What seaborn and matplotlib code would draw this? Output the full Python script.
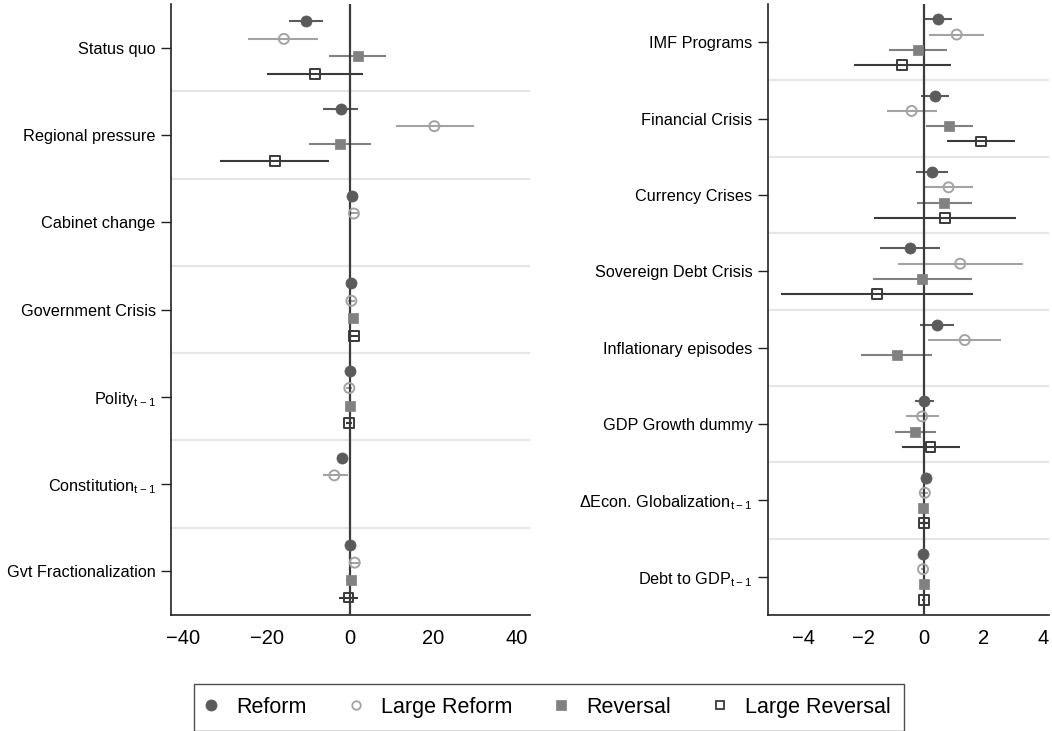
import numpy as np
import pandas as pd
import matplotlib
matplotlib.use("Agg")
import matplotlib.pyplot as plt
import seaborn as sns
from matplotlib.lines import Line2D

nan = np.nan

# ---------------- data ----------------
series = ["Reform", "Large Reform", "Reversal", "Large Reversal"]

left_vars = ["Status quo", "Regional pressure", "Cabinet change", "Government Crisis",
             r"Polity$_{\mathregular{t-1}}$", r"Constitution$_{\mathregular{t-1}}$",
             "Gvt Fractionalization"]

left_reform_est = [-10.6, -2.2, 0.4, 0.3, 0.0, -1.9, 0.0]
left_reform_lo = [-14.6, -6.4, -0.3, -0.3, -0.4, -2.5, -0.4]
left_reform_hi = [-6.4, 1.8, 1.1, 0.9, 0.4, -1.3, 0.4]

left_lref_est = [-15.9, 20.2, 0.9, 0.3, -0.2, -3.8, 1.1]
left_lref_lo = [-24.4, 10.9, 0.0, -0.6, -0.9, -6.6, 0.1]
left_lref_hi = [-7.6, 29.7, 1.8, 1.2, 0.5, -0.6, 2.1]

left_rev_est = [1.8, -2.4, nan, 0.6, 0.0, nan, 0.1]
left_rev_lo = [-5.1, -9.8, nan, 0.0, -0.5, nan, -1.1]
left_rev_hi = [8.7, 5.0, nan, 1.2, 0.5, nan, 1.3]

left_lrev_est = [-8.5, -18.1, nan, 1.0, -0.3, nan, -0.4]
left_lrev_lo = [-19.9, -31.3, nan, 0.0, -1.1, nan, -2.6]
left_lrev_hi = [3.0, -5.0, nan, 2.0, 0.5, nan, 1.8]

right_vars = ["IMF Programs", "Financial Crisis", "Currency Crises", "Sovereign Debt Crisis",
              "Inflationary episodes", "GDP Growth dummy",
              r"ΔEcon. Globalization$_{\mathregular{t-1}}$", r"Debt to GDP$_{\mathregular{t-1}}$"]

right_reform_est = [0.49, 0.38, 0.27, -0.46, 0.43, 0.01, 0.08, -0.02]
right_reform_lo = [0.01, -0.08, -0.27, -1.46, -0.13, -0.30, 0.02, -0.06]
right_reform_hi = [0.94, 0.83, 0.82, 0.54, 1.02, 0.34, 0.14, 0.02]

right_lref_est = [1.10, -0.40, 0.83, 1.22, 1.37, -0.05, 0.04, -0.02]
right_lref_lo = [0.19, -1.22, 0.01, -0.85, 0.14, -0.59, -0.08, -0.08]
right_lref_hi = [2.01, 0.43, 1.63, 3.30, 2.57, 0.52, 0.16, 0.04]

right_rev_est = [-0.18, 0.85, 0.69, -0.05, -0.90, -0.28, -0.02, 0.01]
right_rev_lo = [-1.15, 0.09, -0.23, -1.69, -2.08, -0.96, -0.08, -0.04]
right_rev_hi = [0.77, 1.63, 1.61, 1.62, 0.29, 0.40, 0.04, 0.06]

right_lrev_est = [-0.71, 1.91, 0.71, -1.56, nan, 0.23, 0.0, 0.01]
right_lrev_lo = [-2.32, 0.79, -1.66, -4.75, nan, -0.73, -0.17, -0.04]
right_lrev_hi = [0.90, 3.04, 3.07, 1.63, nan, 1.20, 0.17, 0.06]

# ---------------- style ----------------
sns.set_theme(style="white")
plt.rcParams["font.family"] = ["Liberation Sans", "DejaVu Sans"]
plt.rcParams["mathtext.default"] = "regular"
plt.rcParams["axes.unicode_minus"] = True
plt.rcParams["text.color"] = "black"
plt.rcParams["xtick.color"] = "black"
plt.rcParams["ytick.color"] = "black"
plt.rcParams["xtick.labelcolor"] = "black"
plt.rcParams["ytick.labelcolor"] = "black"

styles = {
    "Reform":         dict(marker="o", color="#5b5b5b", filled=True,  size=8.0),
    "Large Reform":   dict(marker="o", color="#a3a3a3", filled=False, size=7.2),
    "Reversal":       dict(marker="s", color="#818181", filled=True,  size=7.6),
    "Large Reversal": dict(marker="s", color="#3a3a3a", filled=False, size=7.0),
}


def make_df(vars_, est, lo, hi):
    rows = []
    for s_i, name in enumerate(series):
        for c_i, v in enumerate(vars_):
            rows.append(dict(var=v, cat=c_i, series=name, s=s_i,
                             est=est[s_i][c_i], lo=lo[s_i][c_i], hi=hi[s_i][c_i]))
    df = pd.DataFrame(rows)
    df["y"] = df["cat"] - 0.3 + 0.2 * df["s"]
    return df


left_df = make_df(left_vars,
                  [left_reform_est, left_lref_est, left_rev_est, left_lrev_est],
                  [left_reform_lo, left_lref_lo, left_rev_lo, left_lrev_lo],
                  [left_reform_hi, left_lref_hi, left_rev_hi, left_lrev_hi])
right_df = make_df(right_vars,
                   [right_reform_est, right_lref_est, right_rev_est, right_lrev_est],
                   [right_reform_lo, right_lref_lo, right_rev_lo, right_lrev_lo],
                   [right_reform_hi, right_lref_hi, right_rev_hi, right_lrev_hi])

fig = plt.figure(figsize=(10.52, 7.31), dpi=100)
W, H = 1052, 731
ax_l = fig.add_axes([171 / W, 1 - 615 / H, (529.5 - 171) / W, 611 / H])
ax_r = fig.add_axes([767.7 / W, 1 - 615 / H, (1049 - 767.7) / W, 611 / H])


def draw(ax, df, vars_, xlim, xticks):
    n = len(vars_)
    ax.set_xlim(*xlim)
    ax.set_ylim(n - 0.5, -0.5)
    for b in np.arange(0.5, n - 0.5, 1.0):
        ax.axhline(b, color="#e6e6e6", lw=1.6, zorder=1)
    for name in series:
        st = styles[name]
        sub = df[(df["series"] == name) & df["est"].notna()]
        ax.hlines(sub["y"], sub["lo"], sub["hi"], color=st["color"], lw=1.5, zorder=2)
    ax.axvline(0, color="#3c3c3c", lw=1.6, zorder=3)
    for name in series:
        st = styles[name]
        sub = df[(df["series"] == name) & df["est"].notna()]
        if st["filled"]:
            sns.scatterplot(data=sub, x="est", y="y", ax=ax, marker=st["marker"],
                            s=st["size"] ** 2, color=st["color"], edgecolor=st["color"],
                            linewidth=0.5, zorder=4, legend=False)
        else:
            sns.scatterplot(data=sub, x="est", y="y", ax=ax, marker=st["marker"],
                            s=st["size"] ** 2, facecolor="none", edgecolor=st["color"],
                            linewidth=1.4, zorder=4, legend=False)
    ax.set_yticks(range(n))
    ax.set_yticklabels(vars_, fontsize=11.7, color="black")
    ax.set_xticks(xticks)
    ax.tick_params(axis="x", labelsize=14.5, length=7, width=1.0, color="#222222",
                   labelcolor="black", pad=3)
    ax.tick_params(axis="y", length=7, width=1.0, color="#222222", pad=4.0, left=True,
                   labelcolor="black")
    ax.set_xlabel("")
    ax.set_ylabel("")
    for sp in ["top", "right"]:
        ax.spines[sp].set_visible(False)
    for sp in ["left", "bottom"]:
        ax.spines[sp].set_color("#222222")
        ax.spines[sp].set_linewidth(1.2)
    ax.grid(False)


draw(ax_l, left_df, left_vars, (-43, 43.05), [-40, -20, 0, 20, 40])
draw(ax_r, right_df, right_vars, (-5.2, 4.18), [-4, -2, 0, 2, 4])

handles = []
for name in series:
    st = styles[name]
    handles.append(Line2D([], [], linestyle="none", marker=st["marker"],
                          markersize=st["size"] * (1.0 if st["filled"] else 0.85),
                          markerfacecolor=st["color"] if st["filled"] else "none",
                          markeredgecolor=st["color"],
                          markeredgewidth=0.5 if st["filled"] else 1.3))
leg = fig.legend(handles, series, loc="center", bbox_to_anchor=(549 / W, 1 - 707.5 / H),
                 ncol=4, fontsize=15.5, frameon=True, fancybox=False,
                 handlelength=0.37, handletextpad=0.98, columnspacing=2.09,
                 borderpad=0.62, borderaxespad=0.0, edgecolor="#222222")
leg.get_frame().set_linewidth(1.0)
for t in leg.get_texts():
    t.set_color("black")

fig.savefig("out.png", dpi=100)
